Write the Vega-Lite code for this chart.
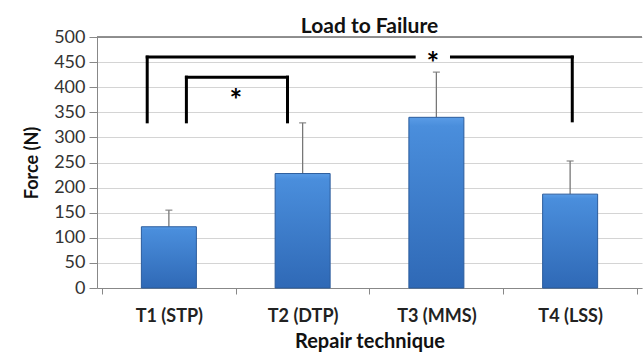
{
  "$schema": "https://vega.github.io/schema/vega-lite/v6.json",
  "autosize": "none",
  "width": 545,
  "height": 251,
  "padding": {"left": 97, "top": 37, "right": 2, "bottom": 64},
  "background": "white",
  "config": {
    "font": "Lato",
    "view": {"stroke": null}
  },
  "title": {"text": "Load to Failure", "fontSize": 21, "fontWeight": "bold", "color": "#111", "offset": -9, "anchor": "middle"},
  "datasets": {
    "bars": [
      {"technique": "T1 (STP)", "pos": 0.5, "force": 122, "upper": 155},
      {"technique": "T2 (DTP)", "pos": 1.5, "force": 228, "upper": 329},
      {"technique": "T3 (MMS)", "pos": 2.5, "force": 340, "upper": 430},
      {"technique": "T4 (LSS)", "pos": 3.5, "force": 187, "upper": 253}
    ],
    "brackets": [
      {"x": 0.338, "x2": 0.338, "y": 331, "y2": 460},
      {"x": 0.338, "x2": 2.334, "y": 460, "y2": 460},
      {"x": 2.613, "x2": 3.516, "y": 460, "y2": 460},
      {"x": 3.516, "x2": 3.516, "y": 460, "y2": 333},
      {"x": 0.631, "x2": 0.631, "y": 331, "y2": 420},
      {"x": 0.631, "x2": 1.387, "y": 420, "y2": 420},
      {"x": 1.387, "x2": 1.387, "y": 420, "y2": 331}
    ],
    "stars": [
      {"x": 2.473, "y": 460, "label": "*"},
      {"x": 1.0, "y": 386, "label": "*"}
    ]
  },
  "encoding": {
    "x": {
      "type": "quantitative",
      "scale": {"domain": [0, 4], "nice": false, "zero": false},
      "axis": {
        "title": "Repair technique",
        "values": [0, 0.5, 1, 1.5, 2, 2.5, 3, 3.5, 4],
        "labelExpr": "datum.value == 0.5 ? 'T1 (STP)' : datum.value == 1.5 ? 'T2 (DTP)' : datum.value == 2.5 ? 'T3 (MMS)' : datum.value == 3.5 ? 'T4 (LSS)' : ''",
        "grid": false,
        "domainColor": "#888",
        "tickColor": "#888",
        "tickSize": 6,
        "tickOpacity": {"condition": {"test": "datum.value % 1 != 0", "value": 0}, "value": 1},
        "labelFontSize": 18,
        "labelFontWeight": "bold",
        "labelColor": "#222",
        "labelPadding": 13,
        "labelOverlap": false,
        "titleFontSize": 20,
        "titleFontWeight": "bold",
        "titleColor": "#111",
        "titlePadding": 6
      }
    },
    "y": {
      "type": "quantitative",
      "scale": {"domain": [0, 500], "nice": false},
      "axis": {
        "title": "Force (N)",
        "values": [0, 50, 100, 150, 200, 250, 300, 350, 400, 450, 500],
        "gridColor": "#d4d4d4",
        "domainColor": "#888",
        "tickColor": "#888",
        "tickSize": 8,
        "labelFontSize": 18,
        "labelColor": "#333",
        "labelPadding": 4,
        "labelOverlap": false,
        "titleFontSize": 18,
        "titleFontWeight": "bold",
        "titleColor": "#111",
        "titlePadding": 12
      }
    }
  },
  "layer": [
    {
      "data": {"name": "bars"},
      "mark": {"type": "rule", "color": "#777", "strokeWidth": 1.3},
      "encoding": {
        "x": {"field": "pos"},
        "y": {"field": "force"},
        "y2": {"field": "upper"}
      }
    },
    {
      "data": {"name": "bars"},
      "mark": {"type": "tick", "orient": "horizontal", "color": "#777", "size": 7, "thickness": 1.5},
      "encoding": {
        "x": {"field": "pos"},
        "y": {"field": "upper"}
      }
    },
    {
      "data": {"name": "bars"},
      "mark": {
        "type": "bar",
        "width": 55,
        "stroke": "#2b5c9c",
        "strokeWidth": 1,
        "color": {
          "gradient": "linear", "x1": 0, "y1": 0, "x2": 0, "y2": 1,
          "stops": [
            {"offset": 0, "color": "#5a9ce6"},
            {"offset": 0.05, "color": "#4a8edc"},
            {"offset": 1, "color": "#2f69b6"}
          ]
        }
      },
      "encoding": {
        "x": {"field": "pos"},
        "y": {"field": "force"}
      }
    },
    {
      "data": {"name": "bars"},
      "mark": {"type": "rule", "color": "#888", "strokeWidth": 1},
      "encoding": {
        "y": {"datum": 500}
      }
    },
    {
      "data": {"name": "brackets"},
      "mark": {"type": "rule", "color": "#000", "strokeWidth": 3, "strokeCap": "square"},
      "encoding": {
        "x": {"field": "x"},
        "x2": {"field": "x2"},
        "y": {"field": "y"},
        "y2": {"field": "y2"}
      }
    },
    {
      "data": {"name": "stars"},
      "mark": {"type": "text", "fontSize": 30, "fontWeight": "bold", "color": "#000", "baseline": "middle", "dy": 8},
      "encoding": {
        "x": {"field": "x"},
        "y": {"field": "y"},
        "text": {"field": "label"}
      }
    }
  ]
}
